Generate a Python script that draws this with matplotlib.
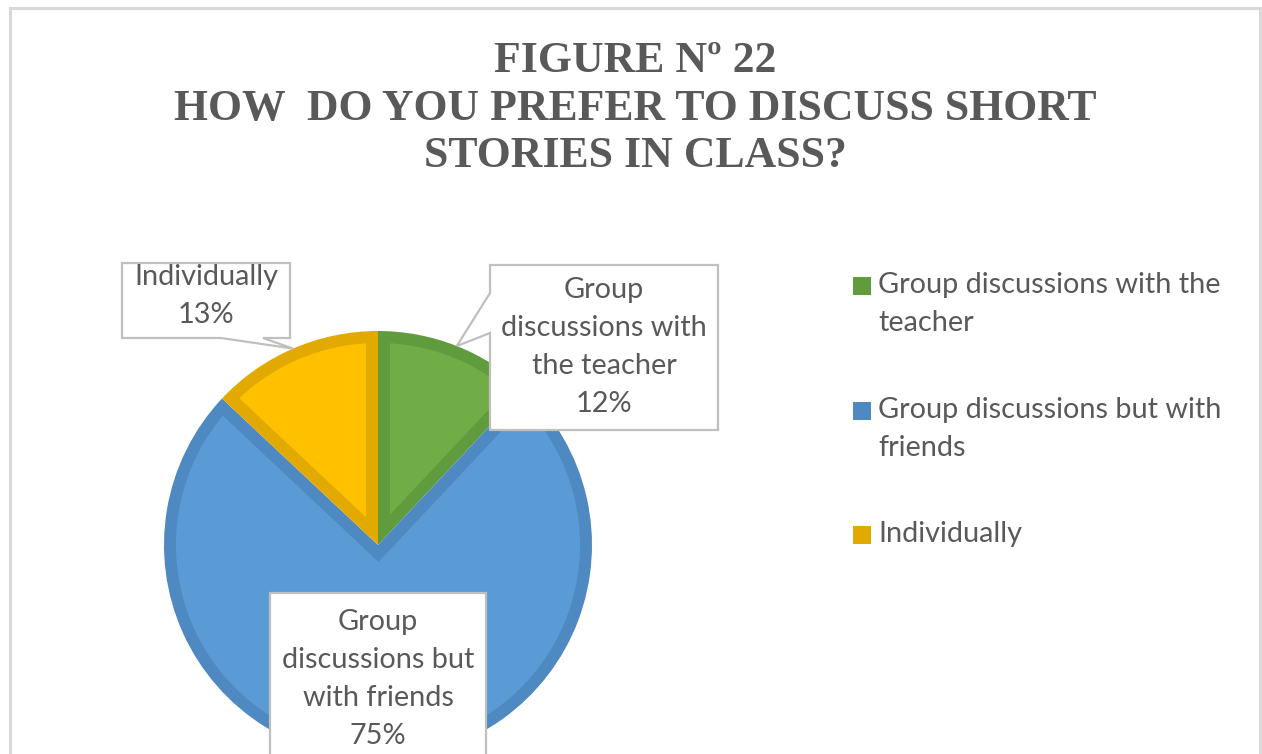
import numpy as np
import matplotlib.pyplot as plt
from matplotlib.patches import Polygon, Rectangle

categories = ["Group discussions with the teacher",
              "Group discussions but with friends",
              "Individually"]
shares = [12, 75, 13]
legend_lines = [["Group discussions with the", "teacher"],
                ["Group discussions but with", "friends"],
                ["Individually"]]
label_lines = [["Group", "discussions with", "the teacher"],
               ["Group", "discussions but", "with friends"],
               ["Individually"]]
title_lines = ["FIGURE N\u00ba 22",
               "HOW  DO YOU PREFER TO DISCUSS SHORT",
               "STORIES IN CLASS?"]

fills = ["#70AD47", "#5B9BD5", "#FFC000"]
edges = ["#609C3E", "#4E89C1", "#E2AA00"]
grey_text = "#595959"

W, H = 1262, 754
CX, CY, R = 378, 545, 214  # pie centre / radius in pixels (top-left origin)

fig = plt.figure(figsize=(W / 100, H / 100), dpi=100)
ax = fig.add_axes([0, 0, 1, 1])


def d(px, py):
    # pixel position -> data units of the full-figure axes
    return ((px - CX) / R, (CY - py) / R)


# chart frame
ax.add_patch(Rectangle(d(9.5, 790), (1260 - 9.5) / R, (790 - 7.5) / R,
                       fill=False, edgecolor="#D9D9D9", linewidth=2.2, zorder=0))

# title
for i, line in enumerate(title_lines):
    ax.text(*d(635, 61 + i * 47.5), line, ha="center", va="center",
            fontsize=31.5, fontweight="bold", family="Liberation Serif",
            color=grey_text)

wedges, _ = ax.pie(shares, colors=edges, startangle=90, counterclock=False,
                   radius=1, center=(0, 0), frame=True)
ax.set_xlim(-CX / R, (W - CX) / R)
ax.set_ylim(-(H - CY) / R, CY / R)
ax.axis("off")

# inner fill of each slice, inset so the darker slice colour shows as a border
bw = 12 / R
for w, fc in zip(wedges, fills):
    w.set_edgecolor("none")
    a1, a2 = np.deg2rad(w.theta1), np.deg2rad(w.theta2)
    half = (a2 - a1) / 2
    mid = a1 + half
    apex = bw / np.sin(half) * np.array([np.cos(mid), np.sin(mid)])
    delta = np.arcsin(bw / (w.r - bw))
    arc = np.linspace(a1 + delta, a2 - delta, 200)
    pts = np.vstack([apex, np.column_stack([np.cos(arc), np.sin(arc)]) * (w.r - bw)])
    ax.add_patch(Polygon(pts, closed=True, facecolor=fc, edgecolor="none", zorder=2))


def tip_of(w):
    mid = np.deg2rad((w.theta1 + w.theta2) / 2)
    return (np.cos(mid), np.sin(mid))


box_kw = dict(facecolor="white", edgecolor="#BFBFBF", linewidth=1.6, zorder=5)
font_kw = dict(ha="center", va="center", fontsize=20.8, family="Lato",
               color=grey_text, zorder=6)

# green callout (pointer on left side)
tip = tip_of(wedges[0])
ax.add_patch(Polygon([d(490, 265), d(718, 265), d(718, 430), d(490, 430),
                      d(490, 333), tip, d(490, 293)], closed=True, **box_kw))
# yellow callout (pointer on bottom side)
tip = tip_of(wedges[2])
ax.add_patch(Polygon([d(122, 263), d(290, 263), d(290, 338), d(263, 338),
                      tip, d(221, 338), d(122, 338)], closed=True, **box_kw))
# blue label box
ax.add_patch(Polygon([d(270, 593), d(486, 593), d(486, 790), d(270, 790)],
                     closed=True, **box_kw))

label_spots = [(604, 290), (378, 622), (206, 277)]
for lines, pct, (x0, y0) in zip(label_lines, shares, label_spots):
    for i, line in enumerate(lines + [f"{pct}%"]):
        ax.text(*d(x0, y0 + i * 38), line, **font_kw)

# legend
legend_tops = [285, 410, 534]
for lines, ec, y0 in zip(legend_lines, edges, legend_tops):
    ax.add_patch(Rectangle(d(853, y0 + 9.5), 17.5 / R, 17.5 / R,
                           facecolor=ec, edgecolor="none"))
    for i, line in enumerate(lines):
        ax.text(*d(878, y0 + i * 38), line, ha="left", va="center",
                fontsize=20.8, family="Lato", color=grey_text)

fig.savefig("out.png", dpi=100)
